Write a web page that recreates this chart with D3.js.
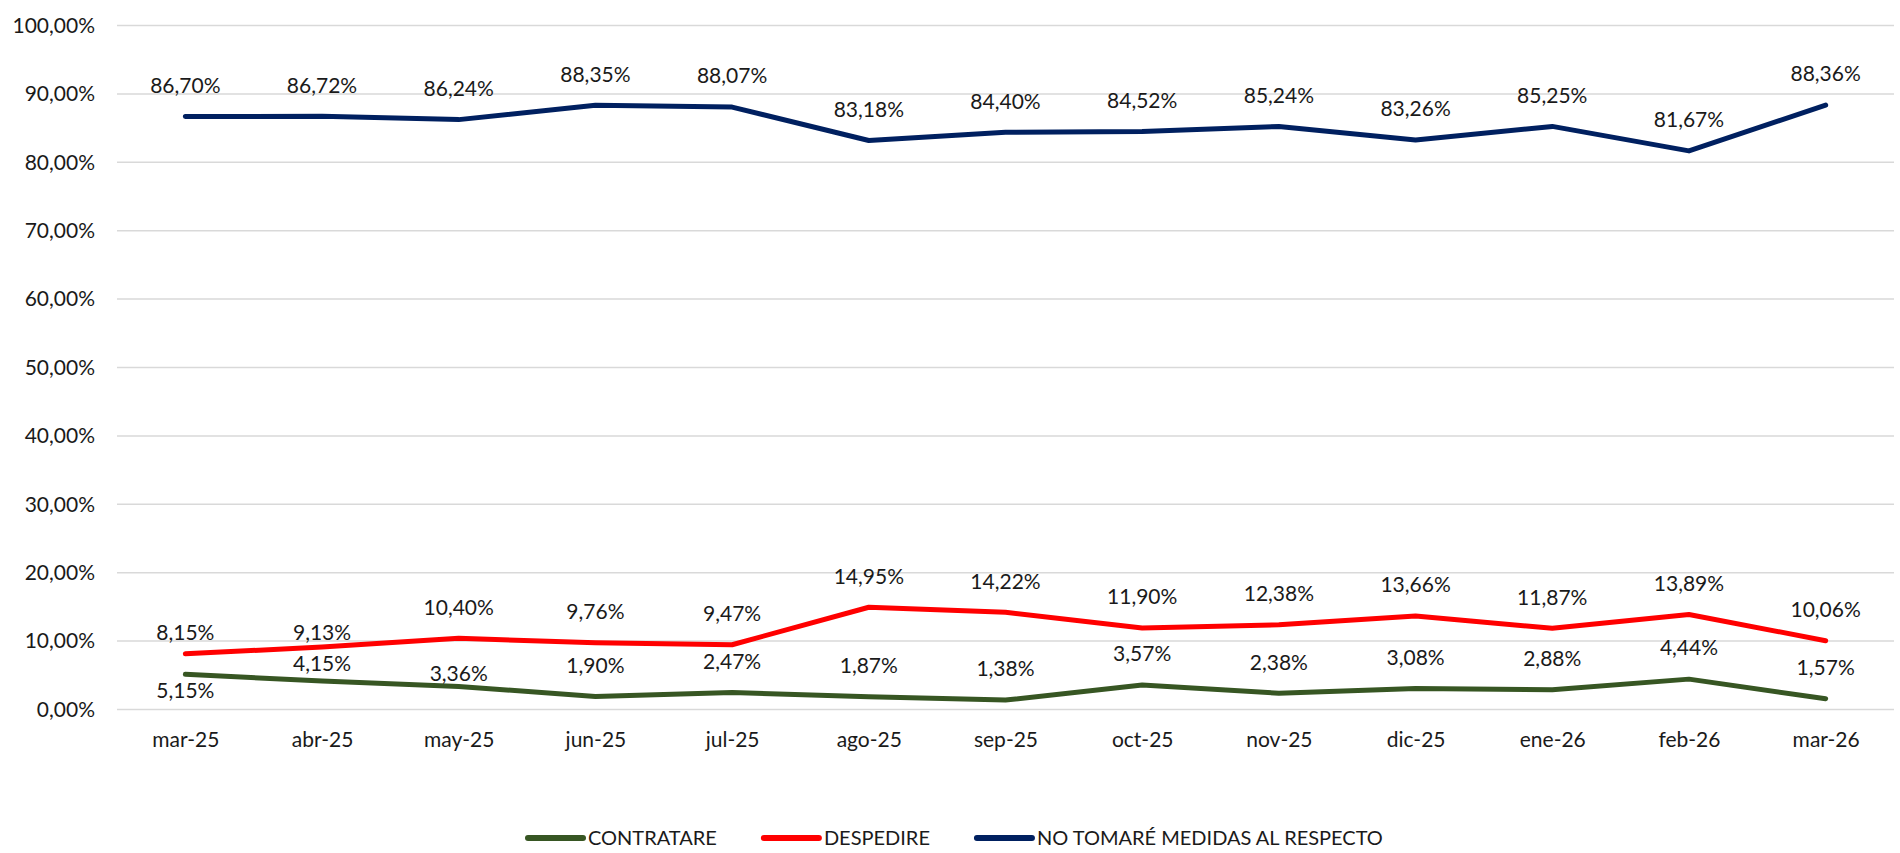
<!DOCTYPE html>
<html>
<head>
<meta charset="utf-8">
<script src="https://cdn.jsdelivr.net/npm/d3@7"></script>
<style>
  body { margin: 0; background: #fff; }
  svg text { font-family: Lato, "Open Sans", sans-serif; fill: #1a1a1a; }
</style>
</head>
<body>
<svg id="chart"></svg>
<script>
const months = ["mar-25", "abr-25", "may-25", "jun-25", "jul-25", "ago-25", "sep-25",
                "oct-25", "nov-25", "dic-25", "ene-26", "feb-26", "mar-26"];

const contratare = [5.15, 4.15, 3.36, 1.90, 2.47, 1.87, 1.38, 3.57, 2.38, 3.08, 2.88, 4.44, 1.57];
const despedire = [8.15, 9.13, 10.40, 9.76, 9.47, 14.95, 14.22, 11.90, 12.38, 13.66, 11.87, 13.89, 10.06];
const noTomare = [86.70, 86.72, 86.24, 88.35, 88.07, 83.18, 84.40, 84.52, 85.24, 83.26, 85.25, 81.67, 88.36];

const yTicks = [0, 10, 20, 30, 40, 50, 60, 70, 80, 90, 100];

// label nudges in px where the original labels were moved by hand (default sits above the point)
const contratareLabelDy = { 0: 16, 1: -17, 2: -13 };
const despedireLabelDy = { 0: -21, 1: -14 };

const series = [
  { name: "CONTRATARE", values: contratare, color: "#375623", dy: contratareLabelDy },
  { name: "DESPEDIRE", values: despedire, color: "#ff0000", dy: despedireLabelDy },
  { name: "NO TOMARÉ MEDIDAS AL RESPECTO", values: noTomare, color: "#002060", dy: {} }
];

const width = 1900, height = 853;
const fontSize = 21;
const svg = d3.select("#chart").attr("width", width).attr("height", height);

const x = d3.scalePoint().domain(months).range([117, 1894]).padding(0.5);
const y = d3.scaleLinear().domain([0, 100]).range([709.5, 25.5]);

const fmt = v => d3.format(".2f")(v).replace(".", ",") + "%";

// gridlines
svg.append("g")
  .selectAll("line")
  .data(yTicks)
  .join("line")
  .attr("x1", 117).attr("x2", 1894)
  .attr("y1", d => y(d)).attr("y2", d => y(d))
  .attr("stroke", "#d9d9d9")
  .attr("stroke-width", 1.5);

// y axis
const yAxis = svg.append("g")
  .attr("transform", "translate(117,0)")
  .call(d3.axisLeft(y).tickValues(yTicks).tickSize(0).tickPadding(22).tickFormat(fmt));
yAxis.select(".domain").remove();
yAxis.selectAll("text").attr("font-size", fontSize).attr("fill", "#1a1a1a")
  .style("font-family", "Lato, 'Open Sans', sans-serif");

// x axis
const xAxis = svg.append("g")
  .attr("transform", "translate(0,709.5)")
  .call(d3.axisBottom(x).tickSize(0).tickPadding(23));
xAxis.select(".domain").remove();
xAxis.selectAll("text").attr("font-size", fontSize).attr("fill", "#1a1a1a")
  .style("font-family", "Lato, 'Open Sans', sans-serif");

const line = d3.line()
  .x((d, i) => x(months[i]))
  .y(d => y(d));

series.forEach(s => {
  svg.append("path")
    .datum(s.values)
    .attr("d", line)
    .attr("fill", "none")
    .attr("stroke", s.color)
    .attr("stroke-width", 5)
    .attr("stroke-linejoin", "round")
    .attr("stroke-linecap", "round");

  svg.append("g")
    .selectAll("text")
    .data(s.values)
    .join("text")
    .attr("x", (d, i) => x(months[i]))
    .attr("y", (d, i) => y(d) + (s.dy[i] !== undefined ? s.dy[i] : -31))
    .attr("dy", "0.35em")
    .attr("text-anchor", "middle")
    .attr("font-size", fontSize)
    .text(d => fmt(d));
});

// legend
const legend = svg.append("g").attr("transform", "translate(528,838)");
let lx = 0;
series.forEach(s => {
  const item = legend.append("g").attr("transform", `translate(${lx},0)`);
  item.append("line")
    .attr("x1", 0).attr("x2", 55)
    .attr("stroke", s.color)
    .attr("stroke-width", 6)
    .attr("stroke-linecap", "round");
  const t = item.append("text")
    .attr("x", 60)
    .attr("dy", "0.35em")
    .attr("font-size", 20)
    .text(s.name);
  lx += 60 + t.node().getComputedTextLength() + 47;
});
</script>
</body>
</html>
